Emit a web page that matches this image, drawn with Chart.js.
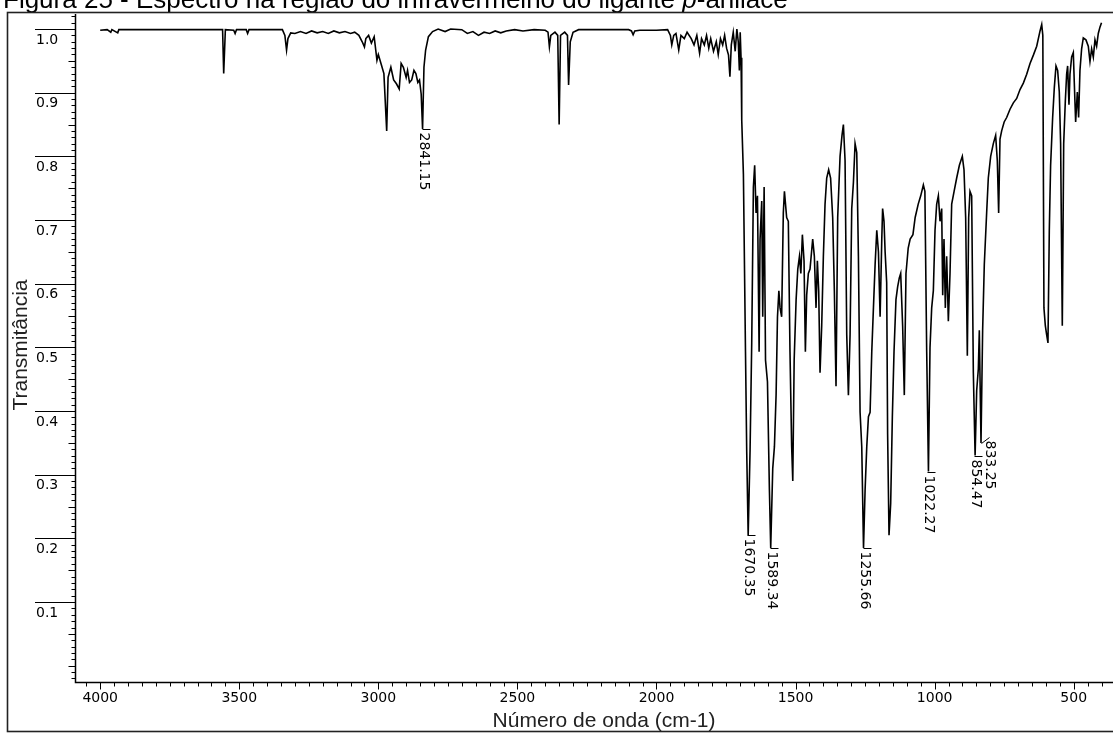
<!DOCTYPE html>
<html><head><meta charset="utf-8">
<script src="https://cdn.jsdelivr.net/npm/chart.js@4.4.1/dist/chart.umd.min.js"></script>
<style>html,body{margin:0;padding:0;background:#fff;overflow:hidden}canvas{display:block}</style>
</head><body>
<canvas id="c" width="1113" height="733"></canvas>
<script>
// ---- data ----
const wavenumbers = [
4000,3975,3962,3958,3937,3933,3600,3560,3556,3550,3520,3515,3510,3475,3470,3465,3345,3336,3330,3325,
3315,3300,3280,3260,3240,3220,3200,3180,3160,3140,3120,3100,3085,3070,3058,3050,3045,3035,3025,3015,
3005,3000,2990,2980,2970,2965,2955,2945,2935,2925,2918,2910,2900,2895,2888,2880,2872,2865,2858,2852,
2846,2841,2836,2830,2820,2805,2785,2760,2740,2700,2680,2660,2640,2620,2600,2580,2560,2540,2510,2480,
2440,2400,2390,2385,2380,2365,2355,2350,2345,2330,2320,2316,2310,2300,2280,2100,2090,2084,2078,2060,
2000,1960,1950,1945,1938,1930,1920,1912,1900,1890,1875,1865,1855,1845,1838,1828,1820,1812,1805,1795,
1785,1778,1770,1762,1755,1748,1741,1736,1731,1724,1717,1711,1706,1702,1699,1696,1693.5,1687.5,1680,1675.6,
1670.35,1663.6,1657.6,1651.6,1647,1642,1637,1631,1627.6,1621.6,1618,1613,1608,1601,1594,1589.34,1582,1576,1570,1565,
1560,1555.7,1550,1544,1540,1532,1526,1520,1514,1510,1505,1498,1492,1486,1481,1475.5,1469.5,1464.7,1460,1454,
1448,1438.4,1432.4,1426.4,1421.6,1416.8,1412,1406,1400,1394,1388,1381,1374,1366.5,1360.5,1354.5,1348.5,1340,1333,1328,
1322,1316,1310,1304,1298,1292,1286,1280,1274,1268,1262,1255.66,1250,1244,1238,1232,1226,1220,1214,1208,
1202,1196,1190,1187,1182,1178,1172.4,1169,1164,1158,1152,1146,1139,1133,1127,1122,1115,1109,1103,1095,
1088,1078,1070,1059,1050,1040.5,1035,1028.5,1022.27,1016.6,1010.6,1004.6,998.6,992.6,986.6,980.6,974.6,971,966.3,961.5,
956.7,950.7,944.7,938.7,930,920.7,911,900.4,894.4,888.4,882.4,877.6,872.8,866.8,860.8,854.47,848.8,842.9,839.3,836,
833.25,827.4,821.4,813,807,798.5,789,780.6,774.6,769.8,765,759,750,741,729,717,705,693,681,669,
657,645,633,621,615,611,607,602,597.3,592.5,587.7,583,575.7,569.7,563.7,557.7,551.8,547,541,536,
530,525.4,521.8,517,513.4,507.4,501.4,497.8,493,487,482.3,477.5,471.5,465.5,456,447.5,441.5,435.5,429.5,423.5,
417.6,411.6,405.6,400
];
const transmittance = [
.998,.999,.995,.999,.994,.999,.999,.999,.93,.999,.998,.993,.999,.999,.993,.999,.999,.99,.967,.985,
.994,.993,.996,.993,.997,.994,.996,.993,.997,.994,.996,.993,.995,.99,.98,.972,.985,.99,.978,.988,
.951,.96,.945,.93,.84,.924,.94,.92,.914,.906,.946,.94,.924,.935,.916,.92,.935,.93,.916,.92,
.898,.843,.94,.967,.988,.996,1.0,.996,1.0,.999,.993,.996,.99,.995,.993,.997,.994,.997,.999,.997,
.999,.998,.995,.972,.99,.995,.99,.85,.99,.995,.99,.912,.98,.995,.999,.999,.997,.991,.997,.998,
.998,.999,.99,.975,.99,.993,.967,.99,.985,.995,.985,.975,.99,.962,.985,.975,.99,.97,.985,.965,
.98,.96,.985,.975,.99,.97,.959,.925,.975,.995,.965,1.0,.98,.935,.995,.955,.857,.772,.493,.337,
.205,.337,.507,.752,.786,.711,.738,.493,.67,.73,.548,.752,.48,.446,.276,.185,.31,.344,.425,.548,
.589,.562,.548,.711,.745,.704,.698,.493,.344,.29,.48,.575,.623,.643,.616,.677,.636,.493,.582,.616,
.623,.67,.643,.562,.636,.589,.46,.534,.643,.725,.766,.779,.766,.704,.589,.439,.704,.8,.833,.85,
.793,.52,.425,.52,.718,.759,.82,.806,.643,.398,.344,.185,.276,.344,.391,.398,.493,.562,.63,.684,
.65,.548,.67,.718,.698,.65,.602,.364,.205,.255,.391,.493,.575,.595,.609,.616,.534,.425,.616,.656,
.67,.677,.704,.725,.738,.755,.745,.493,.305,.5,.562,.589,.684,.725,.738,.698,.718,.582,.67,.562,
.643,.541,.616,.725,.745,.766,.786,.8,.779,.704,.487,.704,.745,.738,.46,.33,.432,.466,.527,.43,
.35,.527,.63,.711,.766,.8,.82,.833,.793,.711,.827,.84,.854,.861,.874,.884,.891,.905,.915,.929,
.946,.959,.973,.997,1.007,.99,.562,.534,.52,.507,.684,.786,.861,.908,.942,.935,.901,.82,.534,.82,
.888,.929,.942,.881,.929,.956,.963,.915,.854,.901,.861,.935,.969,.986,.983,.973,.949,.969,.956,.983,
.973,.993,1.003,1.01
];
const xTickValues = [4000,3500,3000,2500,2000,1500,1000,500];
const xTickLabels = ['4000','3500','3000','2500','2000','1500','1000','500'];
const yTickValues = [1.0,0.9,0.8,0.7,0.6,0.5,0.4,0.3,0.2,0.1];
const yTickLabels = ['1.0','0.9','0.8','0.7','0.6','0.5','0.4','0.3','0.2','0.1'];
const peakWavenumbers = [2841.15,1670.35,1589.34,1255.66,1022.27,854.47,833.25];
const peakLabelT      = [0.843,0.205,0.185,0.185,0.305,0.33,0.35];
const peakLabels      = ['2841.15','1670.35','1589.34','1255.66','1022.27','854.47','833.25'];
const peakLabelShifted= [false,false,false,false,false,false,true];
const titleParts = [['Figura 25 - Espectro na região do infravermelho do ligante ', false], ['p', true], ['-anilace', false]];
const xAxisTitle = 'Número de onda (cm-1)';
const yAxisTitle = 'Transmitância';
const xRange = [358.7, 4087];
const yRange = [-0.0256, 1.0236];

const points = wavenumbers.map((w, i) => ({x: w, y: transmittance[i]}));

const decor = {
  id: 'decor',
  beforeDraw(chart) {
    const c = chart.ctx;
    c.save(); c.fillStyle = '#fff'; c.fillRect(0, 0, chart.width, chart.height); c.restore();
  },
  afterDraw(chart) {
    const c = chart.ctx, a = chart.chartArea, xs = chart.scales.x, ys = chart.scales.y;
    c.save();
    c.fillStyle = '#000'; c.strokeStyle = '#000';
    // title (top partly cut off)
    let tx = 3;
    for (const [txt, it] of titleParts) {
      c.font = (it ? 'italic ' : '') + '26px "Liberation Sans", Arial, sans-serif';
      c.textBaseline = 'alphabetic'; c.textAlign = 'left';
      c.fillText(txt, tx, 8);
      tx += c.measureText(txt).width;
    }
    // outer frame
    c.strokeStyle = '#222'; c.lineWidth = 1.6;
    c.strokeRect(7.5, 12.5, chart.width + 20, 719);
    // axes
    c.strokeStyle = '#000'; c.lineWidth = 1.5;
    const ax = Math.round(a.left) - 0.5, ay = Math.round(a.bottom) + 0.5;
    c.beginPath(); c.moveTo(ax, a.top); c.lineTo(ax, ay); c.lineTo(a.right, ay); c.stroke();
    // y ticks
    c.lineWidth = 1;
    c.font = '14px "DejaVu Sans", sans-serif';
    c.textAlign = 'left'; c.textBaseline = 'middle';
    for (let i = -2; i <= 102; i++) {
      const v = i / 100;
      if (v < yRange[0] || v > yRange[1]) continue;
      const py = Math.round(ys.getPixelForValue(v)) + 0.5;
      let x0;
      if (i % 10 === 0 && i >= 10) x0 = 35;
      else if (i % 5 === 0) x0 = ax - 7;
      else x0 = ax - 4;
      c.beginPath(); c.moveTo(x0, py); c.lineTo(ax, py); c.stroke();
    }
    yTickValues.forEach((v, i) => {
      const py = ys.getPixelForValue(v);
      c.fillText(yTickLabels[i], 36, py + 11);
    });
    // x ticks
    for (let v = 400; v <= 4050; v += 50) {
      const px = Math.round(xs.getPixelForValue(v)) + 0.5;
      const len = (v % 500 === 0) ? 7 : 4;
      c.beginPath(); c.moveTo(px, ay); c.lineTo(px, ay + len); c.stroke();
    }
    c.textAlign = 'center'; c.textBaseline = 'top';
    xTickValues.forEach((v, i) => {
      c.fillText(xTickLabels[i], xs.getPixelForValue(v), ay + 9);
    });
    // axis titles
    c.fillStyle = '#222';
    c.font = '21px "Liberation Sans", Arial, sans-serif';
    c.textAlign = 'center'; c.textBaseline = 'alphabetic';
    c.fillText(xAxisTitle, 604, 727);
    c.save(); c.translate(27, 345); c.rotate(-Math.PI / 2);
    c.fillText(yAxisTitle, 0, 0); c.restore();
    // peak labels
    c.fillStyle = '#000'; c.strokeStyle = '#000'; c.lineWidth = 1;
    c.font = '14px "DejaVu Sans", sans-serif';
    peakWavenumbers.forEach((w, i) => {
      const px = Math.round(xs.getPixelForValue(w)) + 0.5;
      const py = Math.round(ys.getPixelForValue(peakLabelT[i])) + 0.5;
      let lx = px, ly = py;
      c.beginPath();
      if (peakLabelShifted[i]) {
        lx = px + 8; ly = py - 6;
        c.moveTo(px, py); c.lineTo(lx, ly);
      } else {
        c.moveTo(lx - 1, ly); c.lineTo(lx + 7, ly);
      }
      c.stroke();
      c.save(); c.translate(lx, ly + 3); c.rotate(Math.PI / 2);
      c.textAlign = 'left'; c.textBaseline = 'middle';
      c.fillText(peakLabels[i], 0, 0); c.restore();
    });
    c.restore();
  }
};

new Chart(document.getElementById('c'), {
  type: 'line',
  data: { datasets: [{ data: points, borderColor: '#000', borderWidth: 1.6, pointRadius: 0, tension: 0, fill: false }] },
  options: {
    responsive: false, animation: false, devicePixelRatio: 1,
    layout: { padding: { left: 76, top: 14, right: 0, bottom: 51 } },
    plugins: { legend: { display: false }, title: { display: false }, tooltip: { enabled: false } },
    scales: {
      x: { type: 'linear', reverse: true, min: xRange[0], max: xRange[1], display: false },
      y: { type: 'linear', min: yRange[0], max: yRange[1], display: false }
    }
  },
  plugins: [decor]
});
</script>
</body></html>
